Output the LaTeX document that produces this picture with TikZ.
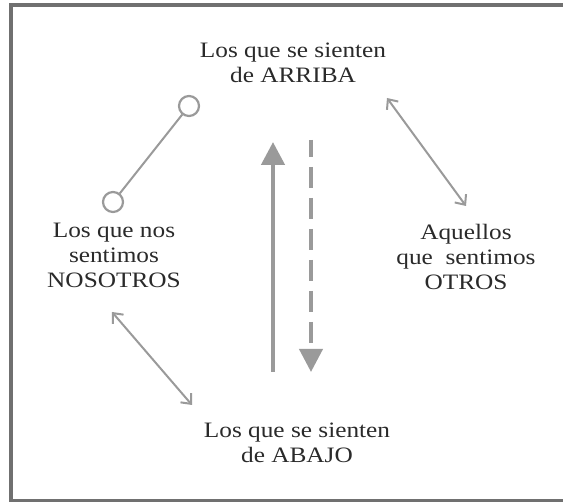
\documentclass[tikz,border=0pt]{standalone}
\usepackage{fontspec}
\setmainfont{Liberation Serif}[FakeStretch=1.15]
\usetikzlibrary{arrows.meta}
\definecolor{framegray}{HTML}{707070}
\definecolor{linegray}{HTML}{9A9A9A}
\definecolor{textgray}{HTML}{2A2A2A}
\begin{document}
\begin{tikzpicture}[x=1pt,y=-1pt,
  lbl/.style={align=center, font=\fontsize{22}{25}\selectfont, text=textgray, inner sep=0pt, anchor=base},
  link/.style={draw=linegray, line width=2pt},
  dbl/.style={link, {Straight Barb[length=8pt,width=14pt]}-{Straight Barb[length=8pt,width=14pt]}},
  ring/.style={circle, draw=linegray, line width=2.2pt, minimum size=20pt, inner sep=0pt},
  bigarrow/.style={draw=linegray, line width=4.5pt, -{Triangle[length=23pt,width=23pt]}},
]
\useasboundingbox (0,0) rectangle (563,502);
\begin{scope}
  \clip (0,0) rectangle (563,502);
  \draw[framegray, line width=3.8pt] (11,5) rectangle (620,501);
\end{scope}

% labels (base anchor = baseline of the last line)
\node[lbl] (arriba) at (293,83) {Los que se sienten\\de ARRIBA};
\node[lbl] (nosotros) at (114,288) {Los que nos\\sentimos\\NOSOTROS};
\node[lbl] (otros) at (466,290) {Aquellos\\que\ \ sentimos\\OTROS};
\node[lbl] (abajo) at (297,463) {Los que se sienten\\de ABAJO};

% rings
\node[ring] (r1) at (189,106) {};
\node[ring] (r2) at (113,202) {};
\draw[link] (r1) -- (r2);

% vertical arrows
\coordinate (upS) at (273,372);
\coordinate (upE) at (273,142);
\draw[bigarrow] (upS) -- (upE);
\coordinate (dnS) at (311,140);
\coordinate (dnE) at (311,372);
\draw[bigarrow, line width=4pt, dash pattern=on 21pt off 10pt, dash phase=4pt] (dnS) -- (dnE);

% double arrows
\coordinate (la1) at (112,312);
\coordinate (la2) at (192,405);
\draw[dbl] (la1) -- (la2);
\coordinate (ra1) at (387,98);
\coordinate (ra2) at (466,206);
\draw[dbl] (ra1) -- (ra2);
\end{tikzpicture}
\end{document}
